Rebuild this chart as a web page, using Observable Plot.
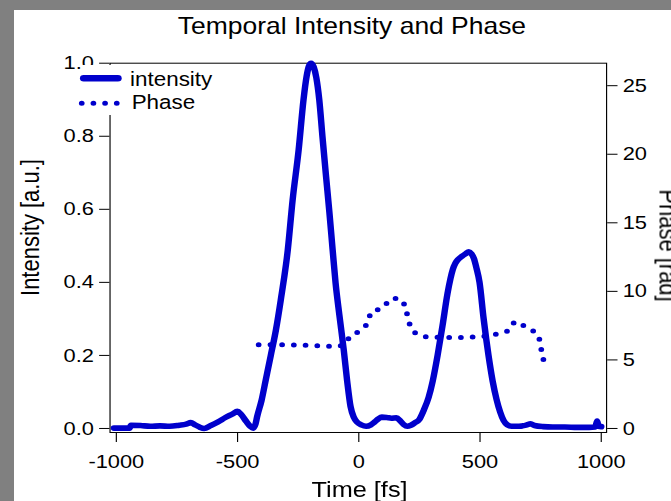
<!DOCTYPE html>
<html>
<head>
<meta charset="utf-8">
<script src="https://cdn.jsdelivr.net/npm/d3@7"></script>
<script src="https://cdn.jsdelivr.net/npm/@observablehq/plot@0.6"></script>
<style>
  html, body { margin: 0; padding: 0; background: #808080; overflow: hidden; }
  /* the reference is a horizontally stretched export: draw at natural size, then stretch */
  #panel { position: absolute; left: 14px; top: 10px; width: 571.3px; height: 491px; background: #fff;
           transform: scaleX(1.15); transform-origin: 0 0; }
  svg { display: block; }
</style>
</head>
<body>
<div id="panel"></div>
<script>
// ---- data ----
const time = [-1010,-945,-940,-900,-860,-820,-780,-740,-712,-693,-675,-655,-638,-610,-580,-550,-520,-501,-485,-465,-448,-435,-426,-419,-401,-384,-363,-342,-322,-293,-273,-248,-228,-215,-205,-197,-186,-175,-163,-150,-135,-121,-108,-96,-80,-62,-48,-34,-20,-8,10,30,50,66,80,95,115,135,155,172,185,200,215,230,250,268,288,305,325,345,366,378,388,398,410,425,440,454,465,475,485,498,515,535,552,568,583,597,612,630,660,690,709,725,760,800,850,900,950,975,983,990,1000];
const intensity = [0.001,0.001,0.009,0.008,0.006,0.007,0.006,0.009,0.012,0.016,0.01,0.003,0.0,0.008,0.018,0.03,0.04,0.047,0.038,0.02,0.006,0.001,0.012,0.033,0.077,0.132,0.2,0.269,0.351,0.488,0.625,0.763,0.9,0.965,0.993,1.0,0.99,0.96,0.9,0.8,0.69,0.59,0.49,0.4,0.31,0.215,0.13,0.06,0.03,0.018,0.01,0.006,0.01,0.018,0.026,0.031,0.03,0.028,0.029,0.02,0.011,0.006,0.009,0.015,0.025,0.05,0.085,0.13,0.2,0.28,0.37,0.41,0.436,0.452,0.463,0.471,0.478,0.484,0.478,0.465,0.44,0.4,0.3,0.2,0.13,0.08,0.045,0.022,0.01,0.006,0.006,0.009,0.013,0.008,0.005,0.004,0.004,0.003,0.003,0.004,0.02,0.006,0.005];
const phaseTime = [-413,-300,-200,-100,-60,-47,0,36,52,98,139,175,197,208,242,290,380,476,565,613,648,679,720,747,754,767];
const phase = [6.1,6.1,6.05,6.0,6.1,6.45,7.1,7.7,8.5,8.8,9.5,9.4,8.5,7.7,6.87,6.67,6.63,6.67,6.87,7.1,7.8,7.5,7.1,6.4,5.6,4.7];
const xTicks = [-1000,-500,0,500,1000];
const yTicks = [0,0.2,0.4,0.6,0.8,1.0];
const phaseTicks = [0,5,10,15,20,25];
const seriesNames = ["intensity","Phase"];
const titleText = "Temporal Intensity and Phase";
const blue = "#0000cc";

// phase axis (right) shares the intensity scale: 1 rad = K intensity units
const K = 1 / 26.64;

const intensityData = time.map((t, i) => ({t, v: intensity[i]}));
const phaseData = phaseTime.map((t, i) => ({t, v: phase[i] * K}));

const font = "Liberation Sans, Arial, sans-serif";
const labelOpts = {fontSize: 22, fill: "#000", textAnchor: "middle", lineAnchor: "middle"};
const chart = Plot.plot({
  width: 571.3,
  height: 491,
  marginLeft: 83,
  marginRight: 56.5,
  marginTop: 52.7,
  marginBottom: 69,
  style: {fontFamily: font, fontSize: "19px", color: "#000", background: "#fff", overflow: "visible"},
  x: {domain: [-1026, 1022]},
  y: {domain: [-0.011, 1.0]},
  marks: [
    Plot.axisX(xTicks, {tickSize: 10, tickPadding: 12, fontSize: 19, tickFormat: d => String(d), label: null}),
    Plot.axisY(yTicks, {anchor: "left", tickSize: 9, tickPadding: 5, fontSize: 19, tickFormat: d3.format(".1f"), label: null}),
    Plot.axisY(phaseTicks.map(p => p * K), {anchor: "right", tickSize: 9, tickPadding: 5, fontSize: 19, tickFormat: d => String(Math.round(d / K)), label: null}),
    Plot.frame({stroke: "#000", strokeWidth: 1}),
    Plot.line(phaseData, {x: "t", y: "v", stroke: blue, strokeWidth: 5, strokeDasharray: "0 10.2", strokeLinecap: "round", curve: "monotone-x"}),
    Plot.line(intensityData, {x: "t", y: "v", stroke: blue, strokeWidth: 5.6, strokeLinejoin: "round", strokeLinecap: "round", curve: "monotone-x"}),
    Plot.text(["Intensity [a.u.]"], {...labelOpts, frameAnchor: "left", dx: -68.8, dy: -20.3, rotate: -90}),
    Plot.text(["Time [fs]"], {...labelOpts, frameAnchor: "bottom", dx: 1.1, dy: 57}),
    Plot.text(["Phase [rad]"], {...labelOpts, frameAnchor: "right", dx: 53, dy: -2.3, rotate: 90})
  ]
});
document.getElementById("panel").appendChild(chart);

const svg = d3.select(chart);
// title
svg.append("text").attr("x", 293.9).attr("y", 24).attr("text-anchor", "middle")
  .attr("font-family", font).attr("font-size", 23).attr("fill", "#000").text(titleText);

// legend box (top-left, overlapping the axis like the reference)
const lg = svg.append("g").attr("font-family", font).attr("font-size", 19.5).attr("text-anchor", "start");
lg.append("rect").attr("x", 59.1).attr("y", 55).attr("width", 115.7).attr("height", 50).attr("fill", "#fff");
lg.append("line").attr("x1", 60.6).attr("x2", 90.4).attr("y1", 68.3).attr("y2", 68.3)
  .attr("stroke", blue).attr("stroke-width", 6.5).attr("stroke-linecap", "round");
lg.append("line").attr("x1", 58.9).attr("x2", 89.5).attr("y1", 93.3).attr("y2", 93.3)
  .attr("stroke", blue).attr("stroke-width", 5).attr("stroke-linecap", "round").attr("stroke-dasharray", "0 10.15");
lg.append("text").attr("x", 100.9).attr("y", 75.7).attr("fill", "#000").text(seriesNames[0]);
lg.append("text").attr("x", 102.3).attr("y", 99.3).attr("fill", "#000").text(seriesNames[1]);
</script>
</body>
</html>
